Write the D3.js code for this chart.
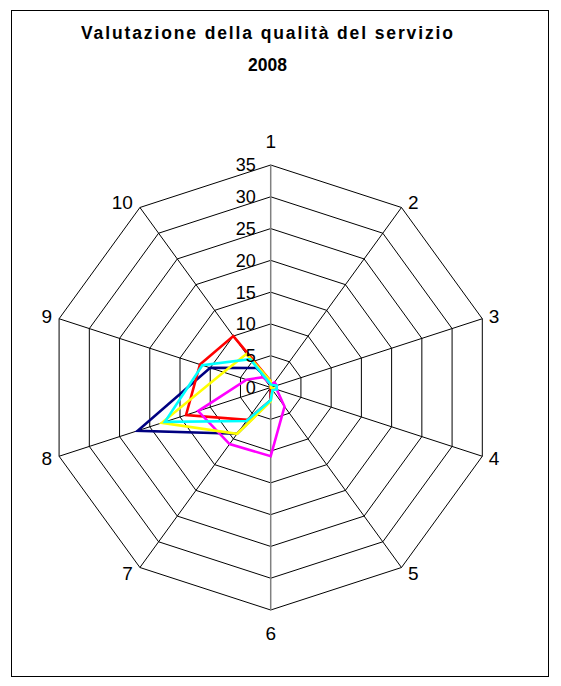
<!DOCTYPE html>
<html>
<head>
<meta charset="utf-8">
<script src="https://cdn.jsdelivr.net/npm/d3@7"></script>
<style>
  body { margin: 0; background: #fff; }
  text { font-family: Arial, "Liberation Sans", sans-serif; }
</style>
</head>
<body>
<div id="chart"></div>
<script>
// categorie (assi) e scala
var assi = ["1", "2", "3", "4", "5", "6", "7", "8", "9", "10"];
var tacche = [0, 5, 10, 15, 20, 25, 30, 35];

// valori, uno per asse
var serieBlu     = [1, 0, 0, 0, 0, 2, 9, 22, 10, 3.8];
var serieRossa   = [1, 0, 0, 0, 0, 2, 6.3, 14, 11.7, 10];
var serieMagenta = [0.5, 1, 1, 1, 3.7, 10.8, 11, 12, 4, 2];
var serieGialla  = [1, 0, 0, 0.5, 0.5, 2.2, 9, 18, 7.8, 6.5];
var serieCiano   = [0.5, 0.5, 1, 1, 0.5, 2, 6.5, 17.5, 11.3, 5.5];

var serie = [
    { valori: serieBlu,     colore: "#000080" },
    { valori: serieRossa,   colore: "#FF0000" },
    { valori: serieMagenta, colore: "#FF00FF" },
    { valori: serieGialla,  colore: "#FFFF00" },
    { valori: serieCiano,   colore: "#00FFFF" }
];

const width = 561, height = 686;
const cx = 270.7, cy = 387.5, R = 222.5;

const svg = d3.select("#chart").append("svg")
    .attr("width", width)
    .attr("height", height);

// bordo dell'area grafico
svg.append("rect")
    .attr("x", 11.5).attr("y", 10.5)
    .attr("width", 537).attr("height", 666)
    .attr("fill", "#fff")
    .attr("stroke", "#000")
    .attr("stroke-width", 1);

// titolo (Excel lo disegna con spaziatura larga)
svg.append("text")
    .attr("x", 267).attr("y", 39)
    .attr("text-anchor", "middle")
    .attr("textLength", 372)
    .attr("lengthAdjust", "spacing")
    .style("font-size", "17.5px").style("font-weight", "bold")
    .text("Valutazione della qualità del servizio");
svg.append("text")
    .attr("x", 267.5).attr("y", 70.5)
    .attr("text-anchor", "middle")
    .style("font-size", "17.5px").style("font-weight", "bold")
    .text("2008");

var r = d3.scaleLinear().domain([0, 35]).range([0, R]);
var angolo = d3.scaleLinear().domain([0, assi.length]).range([0, 2 * Math.PI]);

const g = svg.append("g").attr("transform", "translate(" + cx + "," + cy + ")");

// anelli
var anello = d3.lineRadial()
    .angle(function(d, i) { return angolo(i); })
    .radius(function(d) { return r(d); })
    .curve(d3.curveLinearClosed);

g.selectAll(".anello")
    .data(tacche.filter(function(t) { return t > 0; }))
    .enter().append("path")
    .attr("class", "anello")
    .attr("d", function(t) { return anello(assi.map(function() { return t; })); })
    .attr("fill", "none")
    .attr("stroke", "#000")
    .attr("stroke-width", 1);

// raggi
g.selectAll(".raggio")
    .data(assi)
    .enter().append("line")
    .attr("class", "raggio")
    .attr("x1", 0).attr("y1", 0)
    .attr("x2", function(d, i) { return r(35) * Math.sin(angolo(i)); })
    .attr("y2", function(d, i) { return -r(35) * Math.cos(angolo(i)); })
    .attr("stroke", function(d, i) { return (i === 0 || i === 5) ? "#808080" : "#000"; })
    .attr("stroke-width", function(d, i) { return (i === 0 || i === 5) ? 1.5 : 1; });

// serie
var linea = d3.lineRadial()
    .angle(function(d, i) { return angolo(i); })
    .radius(function(d) { return r(d); })
    .curve(d3.curveLinearClosed);

g.selectAll(".serie")
    .data(serie)
    .enter().append("path")
    .attr("class", "serie")
    .attr("d", function(s) { return linea(s.valori); })
    .attr("fill", "none")
    .attr("stroke", function(s) { return s.colore; })
    .attr("stroke-width", 2.6)
    .attr("stroke-linejoin", "miter");

// etichette della scala
g.selectAll(".tacca")
    .data(tacche)
    .enter().append("text")
    .attr("class", "tacca")
    .attr("x", -15)
    .attr("y", function(t) { return -r(t); })
    .attr("dy", "0.36em")
    .attr("text-anchor", "end")
    .style("font-size", "18px")
    .text(function(t) { return t; });

// etichette degli assi
g.selectAll(".asse")
    .data(assi)
    .enter().append("text")
    .attr("class", "asse")
    .attr("x", function(d, i) {
        var dx = Math.sin(angolo(i));
        var x = r(35) * dx;
        if (dx > 0.1) return x + 6.5;
        if (dx < -0.1) return x - 7;
        return x;
    })
    .attr("y", function(d, i) {
        var dy = -Math.cos(angolo(i));
        var y = r(35) * dy;
        if (Math.abs(dy) > 0.99) return y + dy * 23.5;
        return y + dy * 7;
    })
    .attr("dy", "0.36em")
    .attr("text-anchor", function(d, i) {
        var dx = Math.sin(angolo(i));
        return dx > 0.1 ? "start" : (dx < -0.1 ? "end" : "middle");
    })
    .style("font-size", "19px")
    .text(function(d) { return d; });
</script>
</body>
</html>
